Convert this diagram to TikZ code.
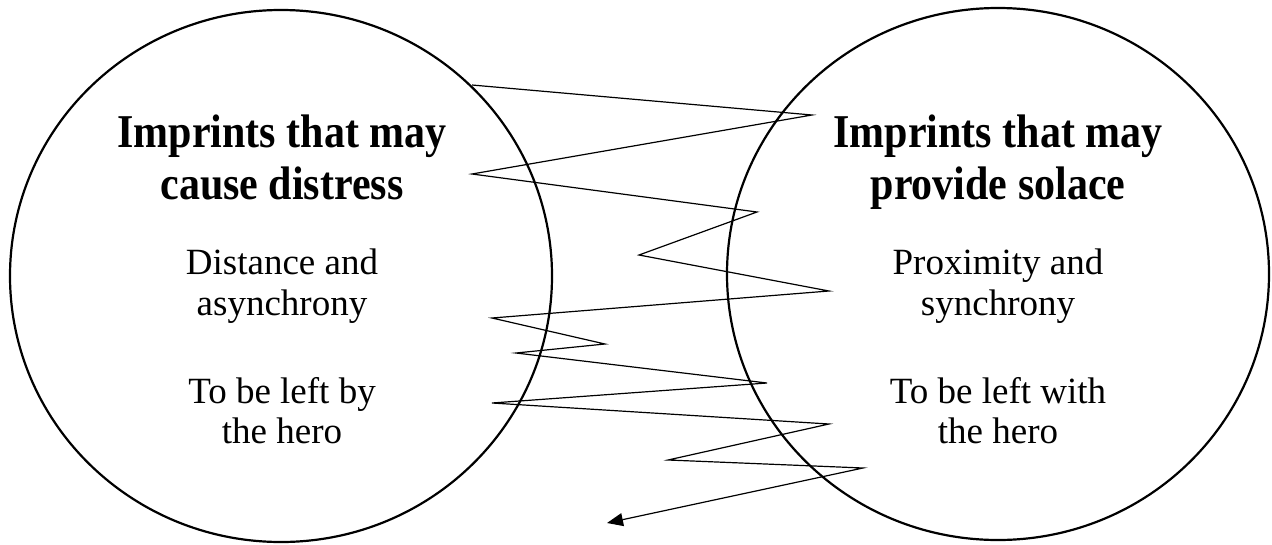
\documentclass[tikz,border=0pt]{standalone}
\usepackage{fontspec}
\setmainfont{Liberation Serif}
\usetikzlibrary{arrows.meta,shapes.geometric}
\newcommand{\tallttl}[1]{\scalebox{1}[1.12]{#1}}
\begin{document}
\begin{tikzpicture}[x=1pt,y=-1pt,
  ring/.style={draw, ellipse, line width=2.2pt, inner sep=0pt, minimum width=542pt, minimum height=532pt},
  ttl/.style={anchor=base, inner sep=0pt, font=\fontsize{42}{50}\selectfont\bfseries},
  body/.style={anchor=base, inner sep=0pt, font=\fontsize{37}{44}\selectfont},
  zig/.style={line width=1.2pt, line join=miter, -{Triangle[length=16pt,width=13pt]}}]
\useasboundingbox (0,0) rectangle (1272,544);
\node[ring] (lc) at (281,276) {};
\node[ring] (rc) at (998,274) {};
% left texts
\node[ttl] (l1) at (282,147) {\tallttl{Imprints that may}};
\node[ttl] (l2) at (282,199) {\tallttl{cause distress}};
\node[body] (l3) at (282,274) {Distance and};
\node[body] (l4) at (282,315) {asynchrony};
\node[body] (l5) at (282,403) {To be left by};
\node[body] (l6) at (282,443) {the hero};
% right texts
\node[ttl] (r1) at (998,147) {\tallttl{Imprints that may}};
\node[ttl] (r2) at (998,199) {\tallttl{provide solace}};
\node[body] (r3) at (998,274) {Proximity and};
\node[body] (r4) at (998,315) {synchrony};
\node[body] (r5) at (998,403) {To be left with};
\node[body] (r6) at (998,443) {the hero};
% zigzag
\coordinate (p1) at (472,85);
\coordinate (p2) at (812,115);
\coordinate (p3) at (472,174);
\coordinate (p4) at (757,212);
\coordinate (p5) at (639,255);
\coordinate (p6) at (829,291);
\coordinate (p7) at (492,318);
\coordinate (p8) at (605,344);
\coordinate (p9) at (516,353);
\coordinate (p10) at (767,383);
\coordinate (p11) at (492,403);
\coordinate (p12) at (829,424);
\coordinate (p13) at (668,460);
\coordinate (p14) at (863,468);
\coordinate (p15) at (607,523);
\draw[zig] (p1) -- (p2) -- (p3) -- (p4) -- (p5) -- (p6) -- (p7) -- (p8) -- (p9) -- (p10) -- (p11) -- (p12) -- (p13) -- (p14) -- (p15);
\end{tikzpicture}
\end{document}
